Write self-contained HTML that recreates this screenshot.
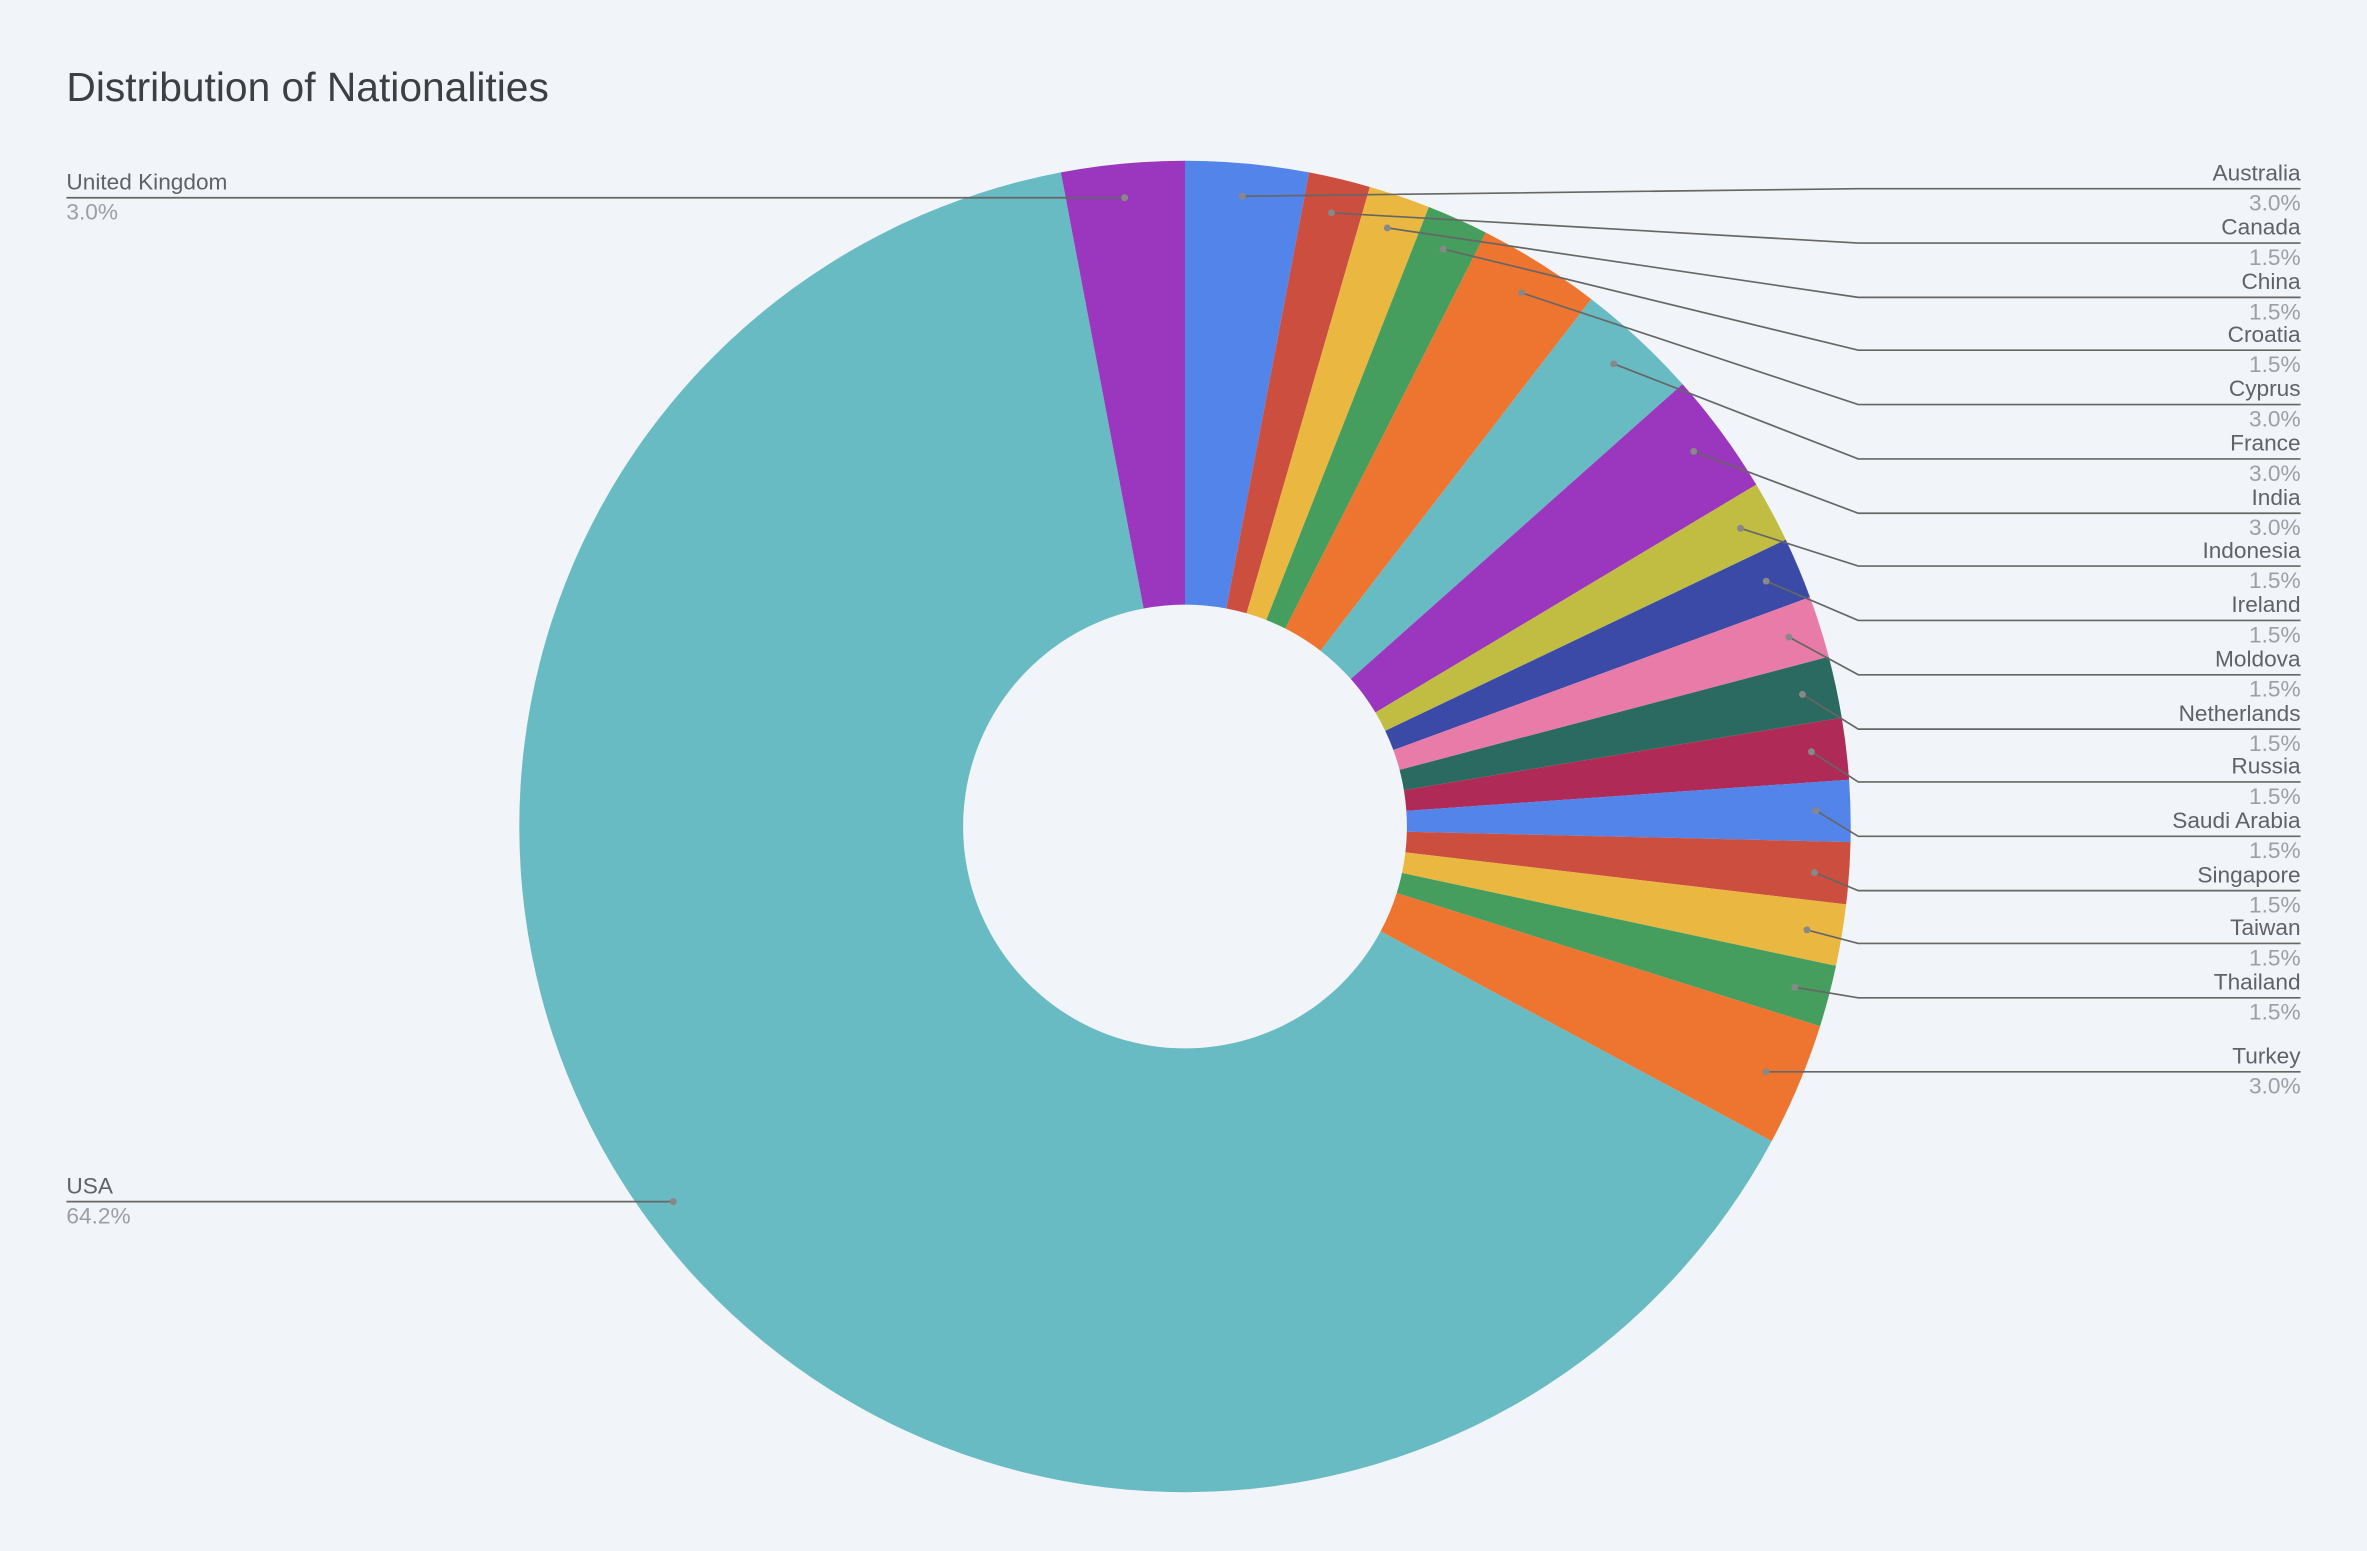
<!DOCTYPE html>
<html><head><meta charset="utf-8"><style>
html,body{margin:0;padding:0;background:#f1f4f8;}
svg{display:block;}
text{font-family:"Liberation Sans",sans-serif;}
</style></head><body>
<svg id="s" width="2367" height="1551" viewBox="0 0 1568 1027.45" xmlns="http://www.w3.org/2000/svg">
<rect width="1568" height="1028" fill="#f1f4f8"/>
<text x="44" y="67" font-size="27" fill="#3c4043">Distribution of Nationalities</text>
<g id="pie"></g>
<g id="lab"></g>
</svg>
<script>
var cx=785,cy=547.5,R=441,r=147;
var d=[["Australia",2,"#5384ea"],["Canada",1,"#cc4e3e"],["China",1,"#eab840"],["Croatia",1,"#459d5e"],["Cyprus",2,"#ee7530"],["France",2,"#69bbc3"],["India",2,"#9b37be"],["Indonesia",1,"#c1bc42"],["Ireland",1,"#3b4aa6"],["Moldova",1,"#e97ba8"],["Netherlands",1,"#2a6a60"],["Russia",1,"#b02a57"],["Saudi Arabia",1,"#5384ea"],["Singapore",1,"#cc4e3e"],["Taiwan",1,"#eab840"],["Thailand",1,"#459d5e"],["Turkey",2,"#ee7530"],["USA",43,"#69bbc3"],["United Kingdom",2,"#9b37be"]];
var tot=67,a=-Math.PI/2,h="";
function p(rad,ang){return (cx+rad*Math.cos(ang)).toFixed(2)+","+(cy+rad*Math.sin(ang)).toFixed(2);}
d.forEach(function(e){var b=a+e[1]/tot*2*Math.PI;var lg=(b-a)>Math.PI?1:0;
h+='<path fill="'+e[2]+'" d="M'+p(R,a)+' A'+R+','+R+' 0 '+lg+' 1 '+p(R,b)+' L'+p(r,b)+' A'+r+','+r+' 0 '+lg+' 0 '+p(r,a)+' Z"/>';a=b;});
document.getElementById('pie').innerHTML=h;
var L=[["Australia",114,823,130,"3.0%"],["Canada",150,882,141,"1.5%"],["China",186,919,151,"1.5%"],["Croatia",221,956,165,"1.5%"],["Cyprus",257,1008,194,"3.0%"],["France",293,1069,241,"3.0%"],["India",329,1122,299,"3.0%"],["Indonesia",364,1153,350,"1.5%"],["Ireland",400,1170,385,"1.5%"],["Moldova",436,1185,422,"1.5%"],["Netherlands",472,1194,460,"1.5%"],["Russia",507,1200,498,"1.5%"],["Saudi Arabia",543,1203,537,"1.5%"],["Singapore",579,1202,578,"1.5%"],["Taiwan",614,1197,616,"1.5%"],["Thailand",650,1189,654,"1.5%"],["Turkey",699,1170,710,"3.0%"]];
var g="";
L.forEach(function(e){var ly=e[1]+11;
g+='<polyline fill="none" stroke="#666" stroke-width="1.1" points="'+e[2]+','+e[3]+' 1231,'+ly+' 1524,'+ly+'"/>';
g+='<circle cx="'+e[2]+'" cy="'+e[3]+'" r="2.3" fill="#888"/>';
g+='<text x="1524" y="'+(e[1]+5.5)+'" font-size="15" text-anchor="end" fill="#5f6368">'+e[0]+'</text>';
g+='<text x="1524" y="'+(e[1]+25.5)+'" font-size="15" text-anchor="end" fill="#9aa0a6">'+e[4]+'</text>';});
[["United Kingdom",120,745,131,"3.0%"],["USA",785,446,795,"64.2%"]].forEach(function(e){var ly=e[1]+11;
g+='<polyline fill="none" stroke="#666" stroke-width="1.1" points="44,'+ly+' '+e[2]+','+ly+'"/>';
g+='<circle cx="'+e[2]+'" cy="'+ly+'" r="2.3" fill="#888"/>';
g+='<text x="44" y="'+(e[1]+5.5)+'" font-size="15" fill="#5f6368">'+e[0]+'</text>';
g+='<text x="44" y="'+(e[1]+25.5)+'" font-size="15" fill="#9aa0a6">'+e[4]+'</text>';});
document.getElementById('lab').innerHTML=g;
</script>
</body></html>
